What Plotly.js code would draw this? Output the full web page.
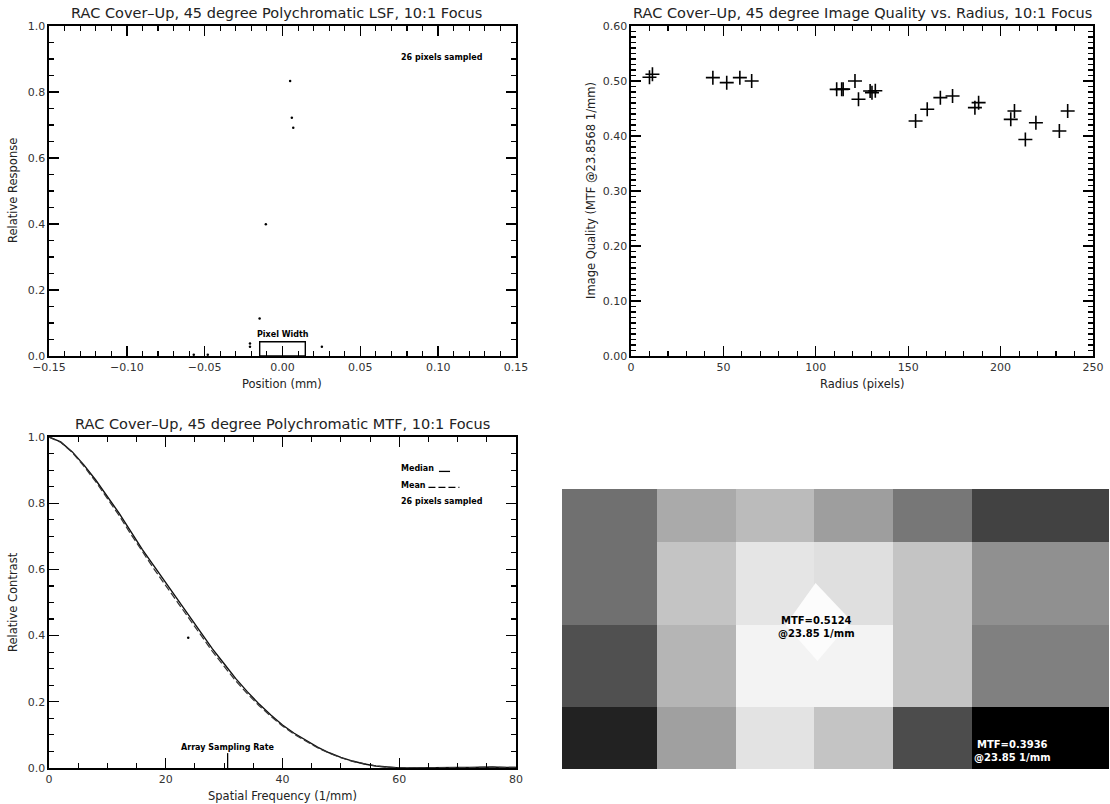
<!DOCTYPE html>
<html>
<head>
<meta charset="utf-8">
<script src="https://cdn.plot.ly/plotly-3.0.1.min.js"></script>
<style>html,body{margin:0;padding:0;background:#fff;}#chart{width:1110px;height:804px;}</style>
</head>
<body>
<div id="chart"></div>
<script>
// ---------- DATA ----------
// LSF samples (top-left)
const lsfPosition = [0.0049, 0.0060, 0.0069, -0.0107, -0.0147, -0.0209, -0.0209, 0.0253, -0.057, -0.048];
const lsfResponse = [0.833, 0.722, 0.692, 0.399, 0.114, 0.038, 0.028, 0.028, 0.004, 0.004];
const pixelWidthMm = 0.0293;
const pixelsSampled = 26;

// Image quality vs radius (top-right)
const radiusPx = [10.0, 11.6, 44.3, 51.8, 58.9, 65.3, 111.3, 114.0, 114.8, 121.2, 123.1, 129.4, 130.4, 132.2,
                  154.0, 160.3, 167.4, 174.0, 186.1, 188.1, 205.5, 207.5, 213.4, 219.1, 231.8, 236.3];
const imageQuality = [0.5067, 0.5124, 0.5061, 0.4970, 0.5061, 0.5000, 0.4848, 0.4848, 0.4852, 0.5000, 0.4667, 0.4818, 0.4788, 0.4824,
                      0.4273, 0.4485, 0.4697, 0.4727, 0.4515, 0.4606, 0.4303, 0.4455, 0.3936, 0.4242, 0.4091, 0.4455];

// MTF (bottom-left)
const spatialFreq = [0, 2, 4, 6, 8, 10, 12, 14, 16, 18, 20, 22, 24, 26, 28, 30, 32, 34, 36, 38, 40,
                     42, 44, 46, 48, 50, 52, 54, 56, 58, 60, 62, 64, 66, 68, 70, 72, 74, 76, 78, 80];
const mtfMedian = [1.000, 0.985, 0.955, 0.915, 0.870, 0.820, 0.770, 0.715, 0.660, 0.610, 0.560, 0.510, 0.460, 0.410, 0.360, 0.315, 0.270, 0.230, 0.193, 0.160, 0.130,
                   0.105, 0.083, 0.063, 0.046, 0.032, 0.021, 0.012, 0.006, 0.002, 0.000, 0.000, 0.001, 0.001, 0.002, 0.002, 0.002, 0.003, 0.003, 0.002, 0.002];
const mtfMean   = [1.000, 0.984, 0.953, 0.911, 0.865, 0.814, 0.763, 0.707, 0.652, 0.601, 0.551, 0.501, 0.451, 0.401, 0.352, 0.307, 0.263, 0.224, 0.188, 0.156, 0.127,
                   0.102, 0.081, 0.061, 0.045, 0.031, 0.020, 0.012, 0.006, 0.002, 0.000, 0.000, 0.001, 0.001, 0.002, 0.002, 0.002, 0.003, 0.003, 0.002, 0.002];
const evalFreq = 23.85;
const arraySamplingRate = 30.6;
const minMTF = 0.3936, maxMTF = 0.5124;

// Detector map (bottom-right): MTF per cell
const hmColEdges = [0, 95, 174, 252, 332, 411, 548];
const hmRowEdges = [0, 53, 136, 218, 280];
const hmMTF = [
  [0.4458, 0.4728, 0.4807, 0.4672, 0.4490, 0.4243],
  [0.4458, 0.4849, 0.5003, 0.4975, 0.4849, 0.4607],
  [0.4309, 0.4779, 0.5068, 0.5068, 0.4849, 0.4532],
  [0.4094, 0.4681, 0.4994, 0.4849, 0.4290, 0.3936]
];

// ---------- LAYOUT HELPERS ----------
const W = 1110, H = 804;
const px = v => v / W, py = v => 1 - v / H;
const FONT = 'DejaVu Sans';

function axis(domain, range, dtick, minor, fmt, anchor) {
  return {
    domain: domain, range: range, dtick: dtick, tick0: 0, tickformat: fmt,
    ticks: 'inside', ticklen: 10, tickwidth: 1.4, tickcolor: '#000',
    showline: true, linecolor: '#000', linewidth: 1.6, mirror: 'allticks',
    showgrid: false, zeroline: false, anchor: anchor, fixedrange: true,
    minor: {dtick: minor, ticks: 'inside', ticklen: 5, tickwidth: 1.1, tickcolor: '#000', showgrid: false},
    tickfont: {family: FONT, size: 11, color: '#333'}
  };
}

const dTL = {x: [px(49), px(516)], y: [py(356), py(26)]};
const dTR = {x: [px(631), px(1093)], y: [py(356), py(26)]};
const dBL = {x: [px(49), px(516)], y: [py(768), py(437)]};
const dHM = {x: [px(562), px(1109)], y: [py(769), py(489)]};

const traces = [
  {type: 'scatter', mode: 'markers', x: lsfPosition, y: lsfResponse, xaxis: 'x', yaxis: 'y',
   marker: {size: 2.5, color: '#000'}, hoverinfo: 'skip'},
  {type: 'scatter', mode: 'markers', x: radiusPx, y: imageQuality, xaxis: 'x2', yaxis: 'y2',
   marker: {symbol: 'cross-thin', size: 10, color: '#000', line: {width: 1.6, color: '#000'}}, hoverinfo: 'skip'},
  {type: 'scatter', mode: 'lines', x: spatialFreq, y: mtfMedian, xaxis: 'x3', yaxis: 'y3',
   line: {color: '#111', width: 1.4}, hoverinfo: 'skip'},
  {type: 'scatter', mode: 'lines', x: spatialFreq, y: mtfMean, xaxis: 'x3', yaxis: 'y3',
   line: {color: '#333', width: 1.2, dash: '7px,3px'}, hoverinfo: 'skip'},
  {type: 'scatter', mode: 'markers', x: [evalFreq], y: [minMTF], xaxis: 'x3', yaxis: 'y3',
   marker: {size: 2.5, color: '#000'}, hoverinfo: 'skip'},
  {type: 'heatmap', x: hmColEdges, y: hmRowEdges, z: hmMTF, xaxis: 'x4', yaxis: 'y4',
   colorscale: [[0, '#000000'], [1, '#ffffff']], zmin: minMTF, zmax: maxMTF, showscale: false, hoverinfo: 'skip'}
];

const small = {family: FONT, size: 8, color: '#000', weight: 'bold'};
const titleFont = {family: FONT, size: 14.5, color: '#222'};
const axTitleFont = {family: FONT, size: 11.5, color: '#222'};

function ann(text, x, y, opts) {
  return Object.assign({text: text, x: x, y: y, xref: 'paper', yref: 'paper', showarrow: false,
                        xanchor: 'center', yanchor: 'middle'}, opts || {});
}

const annotations = [
  ann('RAC Cover\u2013Up, 45 degree Polychromatic LSF, 10:1 Focus', px(276), py(13), {font: titleFont}),
  ann('RAC Cover\u2013Up, 45 degree Image Quality vs. Radius, 10:1 Focus', px(862), py(13), {font: titleFont}),
  ann('RAC Cover\u2013Up, 45 degree Polychromatic MTF, 10:1 Focus', px(282), py(424), {font: titleFont}),
  ann('Position (mm)', px(282), py(384), {font: axTitleFont}),
  ann('Radius (pixels)', px(862), py(384), {font: axTitleFont}),
  ann('Spatial Frequency (1/mm)', px(282), py(796), {font: axTitleFont}),
  ann('Relative Response', px(13), py(191), {font: axTitleFont, textangle: -90}),
  ann('Image Quality (MTF @23.8568 1/mm)', px(591), py(191), {font: axTitleFont, textangle: -90}),
  ann('Relative Contrast', px(13), py(602), {font: axTitleFont, textangle: -90}),
  // in-plot texts
  {text: pixelsSampled + ' pixels sampled', x: 0.075, y: 0.905, xref: 'x', yref: 'y', xanchor: 'left', yanchor: 'middle', showarrow: false, font: small},
  {text: 'Pixel Width', x: 0, y: 0.066, xref: 'x', yref: 'y', xanchor: 'center', yanchor: 'middle', showarrow: false, font: small},
  {text: 'Median', x: 60.0, y: 0.904, xref: 'x3', yref: 'y3', xanchor: 'left', yanchor: 'middle', showarrow: false, font: small},
  {text: 'Mean', x: 60.0, y: 0.855, xref: 'x3', yref: 'y3', xanchor: 'left', yanchor: 'middle', showarrow: false, font: small},
  {text: pixelsSampled + ' pixels sampled', x: 60.0, y: 0.806, xref: 'x3', yref: 'y3', xanchor: 'left', yanchor: 'middle', showarrow: false, font: small},
  {text: 'Array Sampling Rate', x: arraySamplingRate, y: 0.063, xref: 'x3', yref: 'y3', xanchor: 'center', yanchor: 'middle', showarrow: false, font: small},
  {text: 'MTF=' + maxMTF.toFixed(4) + '<br>@' + evalFreq.toFixed(2) + ' 1/mm', x: 255, y: 138, xref: 'x4', yref: 'y4',
   xanchor: 'center', yanchor: 'middle', showarrow: false, font: {family: FONT, size: 10, color: '#000', weight: 'bold'}, align: 'center'},
  {text: 'MTF=' + minMTF.toFixed(4) + '<br>@' + evalFreq.toFixed(2) + ' 1/mm', x: 451, y: 262, xref: 'x4', yref: 'y4',
   xanchor: 'center', yanchor: 'middle', showarrow: false, font: {family: FONT, size: 10, color: '#fff', weight: 'bold'}, align: 'center'}
];

const shapes = [
  {type: 'rect', xref: 'x', yref: 'y', x0: -pixelWidthMm / 2, x1: pixelWidthMm / 2, y0: 0, y1: 0.043,
   line: {color: '#000', width: 1.4}},
  {type: 'line', xref: 'x3', yref: 'y3', x0: 66.8, x1: 68.7, y0: 0.896, y1: 0.896, line: {color: '#000', width: 1.3}},
  {type: 'line', xref: 'x3', yref: 'y3', x0: 65.0, x1: 70.3, y0: 0.848, y1: 0.848, line: {color: '#000', width: 1.3, dash: '7px,3px'}},
  {type: 'line', xref: 'x3', yref: 'y3', x0: arraySamplingRate, x1: arraySamplingRate, y0: 0, y1: 0.045, line: {color: '#000', width: 1.3}},
  {type: 'path', xref: 'x4', yref: 'y4', path: 'M 254 94 L 290 132 L 256 172 L 224 136 Z',
   fillcolor: '#fcfcfc', line: {width: 0}, layer: 'above'}
];

const layout = {
  width: W, height: H, margin: {l: 0, r: 0, t: 0, b: 0},
  paper_bgcolor: '#fff', plot_bgcolor: '#fff', showlegend: false,
  xaxis: axis(dTL.x, [-0.15, 0.15], 0.05, 0.01, '.2f', 'y'),
  yaxis: axis(dTL.y, [0, 1], 0.2, 0.05, '.1f', 'x'),
  xaxis2: axis(dTR.x, [0, 250], 50, 10, 'd', 'y2'),
  yaxis2: axis(dTR.y, [0, 0.6], 0.1, 0.01, '.2f', 'x2'),
  xaxis3: axis(dBL.x, [0, 80], 20, 5, 'd', 'y3'),
  yaxis3: axis(dBL.y, [0, 1], 0.2, 0.05, '.1f', 'x3'),
  xaxis4: {domain: dHM.x, range: [0, 548], visible: false, anchor: 'y4', fixedrange: true},
  yaxis4: {domain: dHM.y, range: [280, 0], visible: false, anchor: 'x4', fixedrange: true},
  annotations: annotations,
  shapes: shapes
};

Plotly.newPlot('chart', traces, layout, {staticPlot: true, displayModeBar: false});
</script>
</body>
</html>
